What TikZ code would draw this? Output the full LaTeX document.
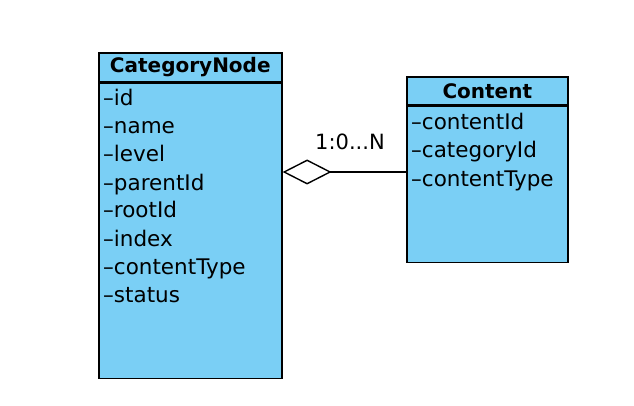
\documentclass[tikz,border=0pt]{standalone}
\usepackage{fontspec}
\setmainfont{DejaVu Sans}
\usepackage{tikz}
\usetikzlibrary{arrows.meta}
\definecolor{classblue}{RGB}{122,207,245}
\tikzstyle{Head}=[rectangle, anchor=north west, inner sep=0, draw=black, fill=classblue, line width=1.6, font=\bfseries\fontsize{20}{20}\selectfont]
\tikzstyle{Body}=[rectangle, anchor=north west, inner sep=0, draw=black, fill=classblue, line width=1.6]
\tikzstyle{Attr}=[anchor=base west, inner sep=0, font=\fontsize{21.5}{21.5}\selectfont]

\begin{document}
\begin{tikzpicture}[x=1pt, y=-1pt]
    \useasboundingbox (0,0) rectangle (634,406);
    \path
    (98,52.5) node[Head, minimum width=183, minimum height=28.5] (cathead) {CategoryNode}
    (cathead.south west) node[Body, minimum width=183, minimum height=295] (catbody) {}
    (406,76) node[Head, minimum width=161, minimum height=28] (conhead) {Content}
    (conhead.south west) node[Body, minimum width=161, minimum height=156] (conbody) {};

    \path (103,106) node[Attr] (id) {–id}
    (103,134) node[Attr] (name) {–name}
    (103,162) node[Attr] (level) {–level}
    (103,190) node[Attr] (parentid) {–parentId}
    (103,218) node[Attr] (rootid) {–rootId}
    (103,246) node[Attr] (index) {–index}
    (103,274) node[Attr] (cattype) {–contentType}
    (103,302) node[Attr] (status) {–status};

    \path (411,130) node[Attr] (contentid) {–contentId}
    (411,158) node[Attr] (categoryid) {–categoryId}
    (411,186) node[Attr] (contype) {–contentType};

    \coordinate (link) at (0,172);
    \draw (350,141.5) node[font=\fontsize{21}{21}\selectfont] (mult) {1:0...N};
    \draw[line width=1.4, -{Diamond[open, length=49, width=25]}] (conbody.west |- link) -- (catbody.east |- link);
\end{tikzpicture}
\end{document}
